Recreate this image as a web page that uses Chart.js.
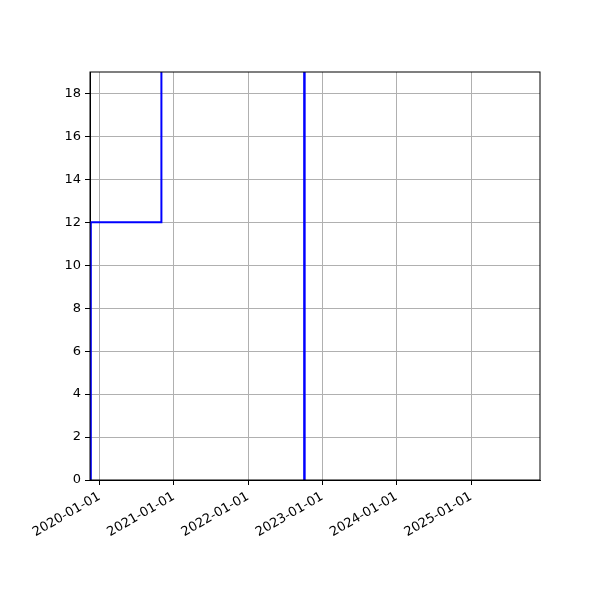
<!DOCTYPE html>
<html>
<head>
<meta charset="utf-8">
<script src="https://cdn.jsdelivr.net/npm/chart.js@4"></script>
<style>
    html, body { margin: 0; padding: 0; background: #fff; }
    #wrap { width: 600px; height: 600px; }
</style>
</head>
<body>
<div id="wrap"><canvas id="chart" width="600" height="600"></canvas></div>
<script>

// data
const stepDates = ["2019-11-20", "2019-11-20", "2020-11-01", "2020-11-01"];
const stepValues = [0, 12, 12, 25];

const lineDates = ["2022-10-05", "2022-10-05"];
const lineValues = [0, 25];

const xTickLabels = ["2020-01-01", "2021-01-01", "2022-01-01", "2023-01-01", "2024-01-01", "2025-01-01"];
const yTicks = [0, 2, 4, 6, 8, 10, 12, 14, 16, 18];

const xStart = "2019-11-16";
const xEnd = "2025-12-06";

function toPoints(dates, values) {
    return dates.map((d, i) => ({ x: Date.parse(d), y: values[i] }));
}

function pad(n) {
    return n < 10 ? "0" + n : "" + n;
}

function fmtDate(ms) {
    const d = new Date(ms);
    return d.getUTCFullYear() + "-" + pad(d.getUTCMonth() + 1) + "-" + pad(d.getUTCDate());
}

// top and right spines
const frame = {
    id: "frame",
    afterDraw(chart) {
        const a = chart.chartArea;
        const ctx = chart.ctx;
        ctx.save();
        ctx.strokeStyle = "#000";
        ctx.lineWidth = 1;
        ctx.strokeRect(a.left, a.top, a.right - a.left, a.bottom - a.top);
        ctx.restore();
    }
};

const font = { family: "DejaVu Sans", size: 13 };

new Chart(document.getElementById("chart"), {

    type: "line",

    data: {
        datasets: [
            {
                data: toPoints(stepDates, stepValues),
                borderColor: "#0000ff",
                borderWidth: 2,
                pointRadius: 0,
                fill: false,
                tension: 0
            },
            {
                data: toPoints(lineDates, lineValues),
                borderColor: "#0000ff",
                borderWidth: 2.5,
                pointRadius: 0,
                fill: false,
                tension: 0
            }
        ]
    },

    options: {
        responsive: false,
        animation: false,
        devicePixelRatio: 1,
        layout: {
            padding: { top: 72, right: 60, left: 0, bottom: 0 }
        },
        plugins: {
            legend: { display: false },
            tooltip: { enabled: false }
        },
        scales: {
            x: {
                type: "linear",
                min: Date.parse(xStart),
                max: Date.parse(xEnd),
                afterBuildTicks: (scale) => {
                    scale.ticks = xTickLabels.map(s => ({ value: Date.parse(s) }));
                },
                afterFit: (scale) => { scale.height = 120; },
                grid: {
                    color: "#b0b0b0",
                    lineWidth: 1,
                    tickColor: "#000",
                    tickLength: 5
                },
                border: { display: true, color: "#000", width: 1 },
                ticks: {
                    color: "#000",
                    font: font,
                    minRotation: 30,
                    maxRotation: 30,
                    autoSkip: false,
                    padding: 4,
                    callback: (v) => fmtDate(v)
                }
            },
            y: {
                min: 0,
                max: 19,
                afterBuildTicks: (scale) => {
                    scale.ticks = yTicks.map(v => ({ value: v }));
                },
                afterFit: (scale) => { scale.width = 90; },
                grid: {
                    color: "#b0b0b0",
                    lineWidth: 1,
                    tickColor: "#000",
                    tickLength: 5
                },
                border: { display: true, color: "#000", width: 1 },
                ticks: {
                    color: "#000",
                    font: font,
                    padding: 4
                }
            }
        }
    },

    plugins: [frame]

});
</script>
</body>
</html>
